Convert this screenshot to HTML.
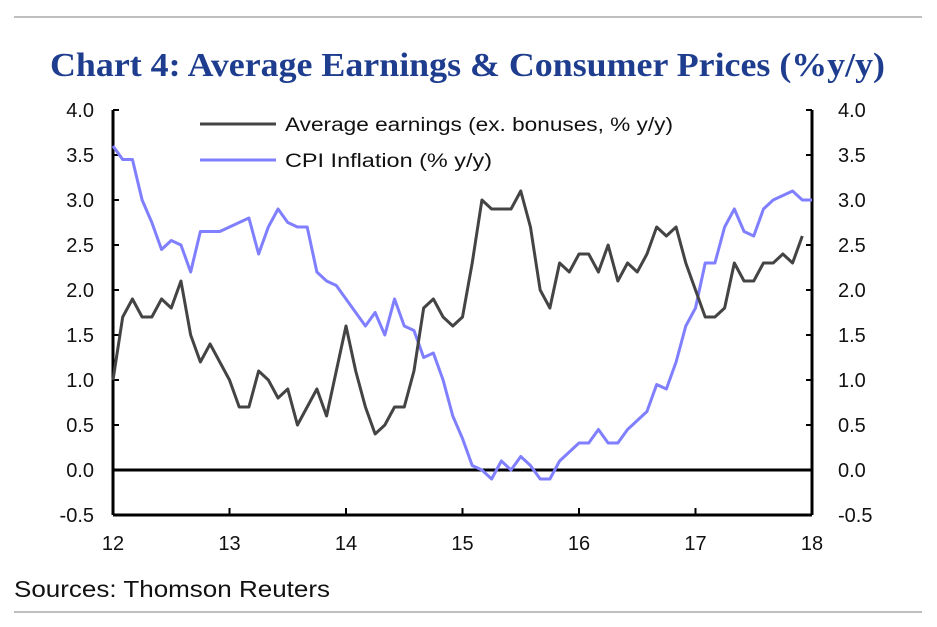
<!DOCTYPE html>
<html><head><meta charset="utf-8"><style>
body{margin:0;background:#fff;width:937px;height:622px;overflow:hidden;font-family:"Liberation Sans",sans-serif}
</style></head><body>
<svg width="937" height="622" xmlns="http://www.w3.org/2000/svg">
<line x1="14" y1="17" x2="922" y2="17" stroke="#aaa" stroke-width="1.5"/>
<line x1="14" y1="612" x2="922" y2="612" stroke="#aaa" stroke-width="1.5"/>
<text x="50" y="76" textLength="835" lengthAdjust="spacingAndGlyphs" font-family="Liberation Serif,serif" font-weight="bold" font-size="34" fill="#1f3d8f">Chart 4: Average Earnings &amp; Consumer Prices (%y/y)</text>
<text x="14" y="597" textLength="316" lengthAdjust="spacingAndGlyphs" font-size="23" fill="#111">Sources: Thomson Reuters</text>
<g id="axes"></g>
<g id="series"></g>
<g>
<line x1="200" y1="124" x2="276" y2="124" stroke="#444" stroke-width="3"/>
<text x="285" y="131" textLength="388" lengthAdjust="spacingAndGlyphs" font-size="19" fill="#111">Average earnings (ex. bonuses, % y/y)</text>
<line x1="200" y1="160" x2="276" y2="160" stroke="#7f7fff" stroke-width="3"/>
<text x="285" y="167" textLength="207" lengthAdjust="spacingAndGlyphs" font-size="19" fill="#111">CPI Inflation (% y/y)</text>
</g>
</svg>
<script>
const yTicks=[4.0,3.5,3.0,2.5,2.0,1.5,1.0,0.5,0.0,-0.5];
const xTickLabels=["12","13","14","15","16","17","18"];
const earnings=[1.0,1.7,1.9,1.7,1.7,1.9,1.8,2.1,1.5,1.2,1.4,1.2,1.0,0.7,0.7,1.1,1.0,0.8,0.9,0.5,0.7,0.9,0.6,1.1,1.6,1.1,0.7,0.4,0.5,0.7,0.7,1.1,1.8,1.9,1.7,1.6,1.7,2.3,3.0,2.9,2.9,2.9,3.1,2.7,2.0,1.8,2.3,2.2,2.4,2.4,2.2,2.5,2.1,2.3,2.2,2.4,2.7,2.6,2.7,2.3,2.0,1.7,1.7,1.8,2.3,2.1,2.1,2.3,2.3,2.4,2.3,2.6];
const cpi=[3.6,3.45,3.45,3.0,2.75,2.45,2.55,2.5,2.2,2.65,2.65,2.65,2.7,2.75,2.8,2.4,2.7,2.9,2.75,2.7,2.7,2.2,2.1,2.05,1.9,1.75,1.6,1.75,1.5,1.9,1.6,1.55,1.25,1.3,1.0,0.6,0.35,0.05,0.0,-0.1,0.1,0.0,0.15,0.05,-0.1,-0.1,0.1,0.2,0.3,0.3,0.45,0.3,0.3,0.45,0.55,0.65,0.95,0.9,1.2,1.6,1.8,2.3,2.3,2.7,2.9,2.65,2.6,2.9,3.0,3.05,3.1,3.0,3.0];
const X0=113,X1=812,Y0=110,Y1=515;
const xm=i=>X0+(X1-X0)*i/72;
const yv=v=>Y0+(4.0-v)*(Y1-Y0)/4.5;
const NS="http://www.w3.org/2000/svg";
const ax=document.getElementById('axes'),se=document.getElementById('series');
function mk(tag,at,par){const e=document.createElementNS(NS,tag);for(const k in at)e.setAttribute(k,at[k]);par.appendChild(e);return e;}
let e;
e=mk('line',{x1:X0,y1:Y0,x2:X0,y2:Y1,stroke:'#000','stroke-width':3},ax);


e=mk('line',{x1:X1,y1:Y0,x2:X1,y2:Y1,stroke:'#000','stroke-width':3},ax);


e=mk('line',{x1:X0,y1:Y1,x2:X1,y2:Y1,stroke:'#000','stroke-width':3},ax);


e=mk('line',{x1:X0,y1:yv(0),x2:X1,y2:yv(0),stroke:'#000','stroke-width':3},ax);


yTicks.forEach(v=>{const y=yv(v);
e=mk('line',{x1:X0,y1:y,x2:X0+6,y2:y,stroke:'#000','stroke-width':2},ax);


e=mk('line',{x1:X1-6,y1:y,x2:X1,y2:y,stroke:'#000','stroke-width':2},ax);


e=mk('text',{x:94,y:y+7,'text-anchor':'end','font-size':20,fill:'#111'},ax);e.textContent=v.toFixed(1);


e=mk('text',{x:838,y:y+7,'font-size':20,fill:'#111'},ax);e.textContent=v.toFixed(1);


});
xTickLabels.forEach((t,i)=>{const x=xm(i*12);
e=mk('line',{x1:x,y1:Y1,x2:x,y2:Y1-7,stroke:'#000','stroke-width':2},ax);


e=mk('text',{x:x,y:Y1+35,'text-anchor':'middle','font-size':20,fill:'#111'},ax);e.textContent=t;


});
e=mk('polyline',{points:cpi.map((v,i)=>xm(i)+','+yv(v)).join(' '),fill:'none',stroke:'#7f7fff','stroke-width':3,'stroke-linejoin':'round'},se);


e=mk('polyline',{points:earnings.map((v,i)=>xm(i)+','+yv(v)).join(' '),fill:'none',stroke:'#444','stroke-width':3,'stroke-linejoin':'round'},se);


</script>
</body></html>
